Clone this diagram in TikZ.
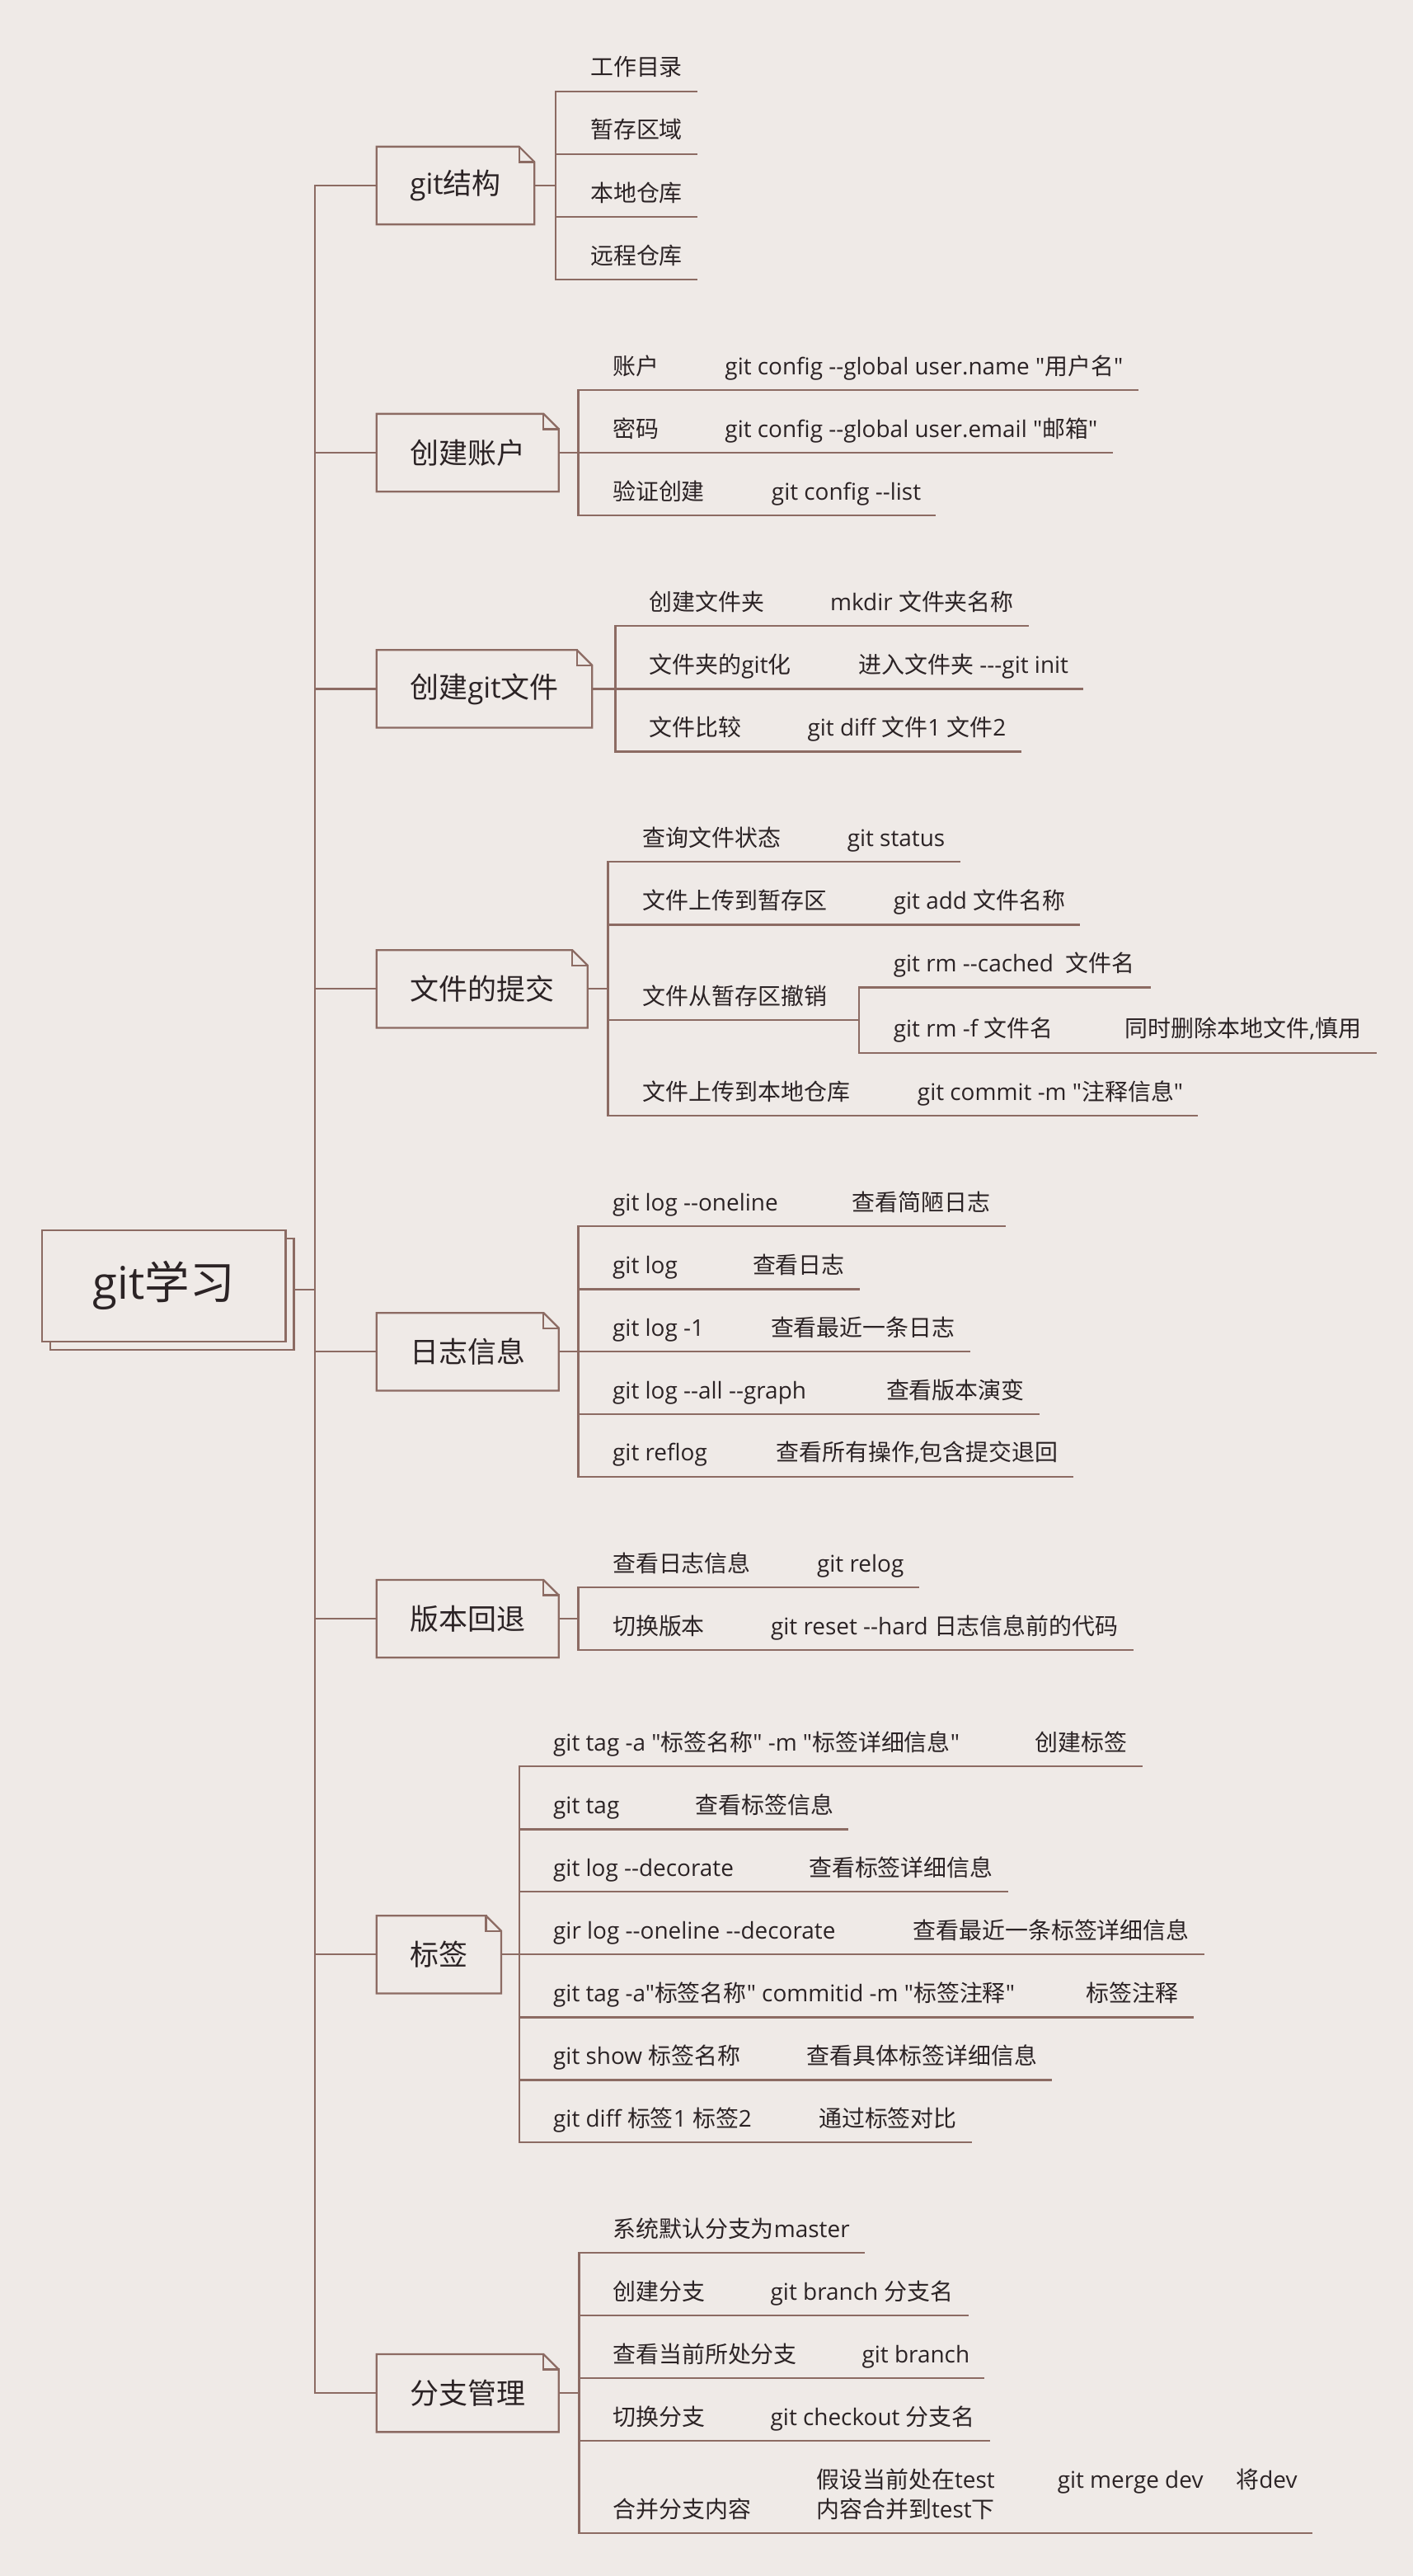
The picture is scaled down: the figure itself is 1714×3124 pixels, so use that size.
\documentclass[tikz,border=0pt]{standalone}
\usepackage{fontspec}
\setmainfont{Open Sans}[Ligatures=TeXOff]
\newfontfamily\cjkfont{Noto Sans CJK SC}[Ligatures=TeXOff]
\usetikzlibrary{calc,shadows}

% chinesische Zeichen automatisch in Noto Sans CJK
\XeTeXinterchartokenstate=1
\newXeTeXintercharclass\cjkclass
\newcount\zeichen
\zeichen="4E00
\loop
  \XeTeXcharclass\zeichen=\cjkclass
  \advance\zeichen by 1
\ifnum\zeichen<"A000 \repeat
\XeTeXinterchartoks 0 \cjkclass={\cjkfont}
\XeTeXinterchartoks 4095 \cjkclass={\cjkfont}
\XeTeXinterchartoks \cjkclass 0={\rmfamily}
\XeTeXinterchartoks \cjkclass 4095={\rmfamily}

\definecolor{papier}{HTML}{EFEAE7}
\definecolor{linie}{HTML}{8C6B63}
\definecolor{schrift}{HTML}{2B2325}
\tikzset{
  thema/.style={font=\fontsize{31}{36}\selectfont,draw=linie,fill=papier,
    minimum width=5.914cm,minimum height=2.7cm,
    copy shadow={shadow xshift=0.2cm,shadow yshift=-0.2cm}},
  zweig/.style={font=\fontsize{19.9}{24}\selectfont,inner xsep=0.79cm,
    minimum height=1.84cm,anchor=west},
  blatt/.style={font=\fontsize{15.9}{20.3}\selectfont,inner sep=0pt,anchor=base west}
}

\begin{document}
\begin{tikzpicture}[x=0.02cm,y=-0.02cm,line width=1.3pt,line cap=rect,linie,
  every node/.append style={text=schrift}]
\fill[papier] (0,0) rectangle (1714,3124);
\useasboundingbox (0,0) rectangle (1714,3124);
% Wurzel und Stamm
\node[thema] (wurzel) at (198.7,1559.2) {git学习};
\coordinate (stamm) at (382,0);
\coordinate (wa) at ($(wurzel.east)+(10,5)$);
\draw (wa) -- (wa -| stamm);
% Hauptzweige
\node[zweig] (struktur) at (456.7,225) {git结构};
\node[zweig] (konto) at (456.7,549) {创建账户};
\node[zweig] (gitdatei) at (456.7,835.4) {创建git文件};
\node[zweig] (commit) at (456.7,1199.3) {文件的提交};
\node[zweig] (log) at (456.7,1639.3) {日志信息};
\node[zweig] (reset) at (456.7,1963.1) {版本回退};
\node[zweig] (tag) at (456.7,2370.3) {标签};
\node[zweig] (zweige) at (456.7,2902.2) {分支管理};
\draw (struktur.west -| stamm) -- (zweige.west -| stamm);
\foreach \k in {struktur,konto,gitdatei,commit,log,reset,tag,zweige}{
  \draw (\k.north west) -- ([xshift=-0.37cm]\k.north east) -- ([yshift=-0.37cm]\k.north east)
    -- (\k.south east) -- (\k.south west) -- cycle;
  \draw ([xshift=-0.37cm]\k.north east) |- ([yshift=-0.37cm]\k.north east);
  \draw (\k.west) -- (\k.west -| stamm);
}
% git结构
\draw (struktur.east) -- (struktur.east -| 674,0);
\draw (674,110.7) -- (674,339);
\foreach \ly/\ta [count=\i] in {110.7/工作目录,186.7/暂存区域,263.3/本地仓库,339/远程仓库}{
  \node[blatt] (s\i) at (715,\ly-19) {\ta};
  \draw (674,\ly) -- (s\i.east |- 0,\ly) -- ++(16,0);
}
% 创建账户
\draw (konto.east) -- (konto.east -| 701.6,0);
\draw (701.6,473) -- (701.6,625.2);
\foreach \ly/\ta/\xb/\tb [count=\i] in {473/账户/878.3/{git config --global user.name "用户名"},
    549.1/密码/878.3/{git config --global user.email "邮箱"},
    625.2/验证创建/934.8/{git config --list}}{
  \node[blatt] (k\i) at (742,\ly-19) {\ta};
  \node[blatt] (kb\i) at (\xb,\ly-19) {\tb};
  \draw (701.6,\ly) -- (kb\i.east |- 0,\ly) -- ++(16,0);
}
% 创建git文件
\draw (gitdatei.east) -- (gitdatei.east -| 746.6,0);
\draw (746.6,759.2) -- (746.6,911.4);
\foreach \ly/\ta/\xb/\tb [count=\i] in {759.2/创建文件夹/1006/{mkdir 文件夹名称},
    835.5/文件夹的git化/1040.4/{进入文件夹 ---git init},
    911.4/文件比较/978.4/{git diff 文件1 文件2}}{
  \node[blatt] (g\i) at (786.5,\ly-19) {\ta};
  \node[blatt] (gb\i) at (\xb,\ly-19) {\tb};
  \draw (746.6,\ly) -- (gb\i.east |- 0,\ly) -- ++(16,0);
}
% 文件的提交
\draw (commit.east) -- (commit.east -| 737.4,0);
\draw (737.4,1045.3) -- (737.4,1353.3);
\foreach \ly/\ta/\xb/\tb [count=\i] in {1045.3/查询文件状态/1026.6/{git status},
    1121.5/文件上传到暂存区/1082.7/{git add 文件名称},
    1353.3/文件上传到本地仓库/1111.8/{git commit -m "注释信息"}}{
  \node[blatt] (c\i) at (778.7,\ly-19) {\ta};
  \node[blatt] (cb\i) at (\xb,\ly-19) {\tb};
  \draw (737.4,\ly) -- (cb\i.east |- 0,\ly) -- ++(16,0);
}
\node[blatt] (c4) at (778.7,1237.3-19) {文件从暂存区撤销};
\draw (737.4,1237.3) -- (1041.8,1237.3);
\draw (1041.8,1197.5) -- (1041.8,1276.7);
\node[blatt] (c5) at (1082.7,1197.5-19) {git rm --cached\ \ 文件名};
\draw (1041.8,1197.5) -- (c5.east |- 0,1197.5) -- ++(17,0);
\node[blatt] (c6) at (1082.7,1276.7-19) {git rm -f 文件名};
\node[blatt] (c6b) at (1363.7,1276.7-19) {同时删除本地文件,慎用};
\draw (1041.8,1276.7) -- (c6b.east |- 0,1276.7) -- ++(17,0);
% 日志信息
\draw (log.east) -- (log.east -| 701.6,0);
\draw (701.6,1487) -- (701.6,1790.8);
\foreach \ly/\ta/\xb/\tb [count=\i] in {1487/{git log --oneline}/1032.6/查看简陋日志,
    1563.5/{git log}/911.9/查看日志,
    1639.3/{git log -1}/933.9/查看最近一条日志,
    1715/{git log --all --graph}/1073.9/查看版本演变,
    1790.8/{git reflog}/940.3/{查看所有操作,包含提交退回}}{
  \node[blatt] (l\i) at (742,\ly-19) {\ta};
  \node[blatt] (lb\i) at (\xb,\ly-19) {\tb};
  \draw (701.6,\ly) -- (lb\i.east |- 0,\ly) -- ++(16,0);
}
% 版本回退
\draw (reset.east) -- (reset.east -| 701.6,0);
\draw (701.6,1925.2) -- (701.6,2001);
\foreach \ly/\ta/\xb/\tb [count=\i] in {1925.2/查看日志信息/989.9/{git relog},
    2001/切换版本/933.9/{git reset --hard 日志信息前的代码}}{
  \node[blatt] (r\i) at (742,\ly-19) {\ta};
  \node[blatt] (rb\i) at (\xb,\ly-19) {\tb};
  \draw (701.6,\ly) -- (rb\i.east |- 0,\ly) -- ++(16,0);
}
% 标签
\draw (tag.east) -- (tag.east -| 629.9,0);
\draw (629.9,2142.3) -- (629.9,2598.2);
\foreach \ly/\ta/\xb/\tb [count=\i] in {2142.3/{git tag -a "标签名称" -m "标签详细信息"}/1254.4/创建标签,
    2218.4/{git tag}/842.3/查看标签信息,
    2294.2/{git log --decorate}/980/查看标签详细信息,
    2370.3/{gir log --oneline --decorate}/1106.3/查看最近一条标签详细信息,
    2446.4/{git tag -a"标签名称" commitid -m "标签注释"}/1316.4/标签注释,
    2522.5/{git show 标签名称}/977.7/查看具体标签详细信息,
    2598.2/{git diff 标签1 标签2}/992/通过标签对比}{
  \node[blatt] (t\i) at (670,\ly-19) {\ta};
  \node[blatt] (tb\i) at (\xb,\ly-19) {\tb};
  \draw (629.9,\ly) -- (tb\i.east |- 0,\ly) -- ++(16,0);
}
% 分支管理
\draw (zweige.east) -- (zweige.east -| 702.4,0);
\draw (702.4,2732) -- (702.4,3072.3);
\node[blatt] (z1) at (742.2,2732-19) {系统默认分支为master};
\draw (702.4,2732) -- (z1.east |- 0,2732) -- ++(16,0);
\foreach \ly/\ta/\xb/\tb [count=\i from 2] in {2808.3/创建分支/933.5/{git branch 分支名},
    2884.3/查看当前所处分支/1044.4/{git branch},
    2960.3/切换分支/933.5/{git checkout 分支名}}{
  \node[blatt] (z\i) at (742.2,\ly-19) {\ta};
  \node[blatt] (zb\i) at (\xb,\ly-19) {\tb};
  \draw (702.4,\ly) -- (zb\i.east |- 0,\ly) -- ++(16,0);
}
\node[blatt] (z5) at (742.2,3072.3-19) {合并分支内容};
\node[blatt,align=left] (z5b) at (989.3,3072.3-19) {假设当前处在test\\内容合并到test下};
\node[blatt] (z5c) at (1281.6,3017.7) {git merge dev};
\node[blatt] (z5d) at (1498.2,3017.7) {将dev};
\draw (702.4,3072.3) -- (z5d.east |- 0,3072.3) -- ++(16,0);
\end{tikzpicture}
\end{document}
